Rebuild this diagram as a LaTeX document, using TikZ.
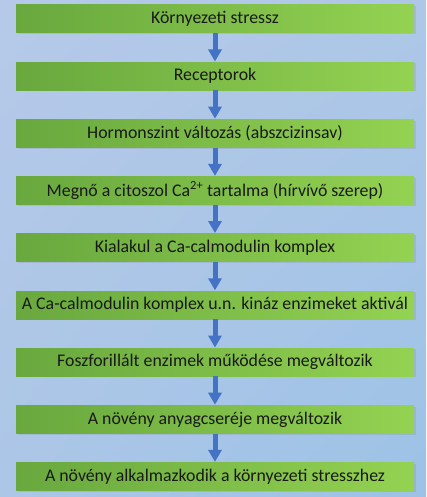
\documentclass[tikz,border=0pt]{standalone}
\usepackage{fontspec}
\setmainfont{Carlito}
\usetikzlibrary{positioning,arrows.meta,shadows,shadings}
\definecolor{bgtop}{HTML}{B6C9E8}
\definecolor{bgbot}{HTML}{9CC2E6}
\definecolor{grleft}{HTML}{68A83E}
\definecolor{grright}{HTML}{94D252}
\definecolor{arrblue}{HTML}{4472C4}
\begin{document}
\begin{tikzpicture}[x=1pt,y=1pt,
  lepes/.style={minimum width=398pt,minimum height=28pt,inner sep=0pt,
    left color=grleft,right color=grright,text=black!90,
    font=\fontsize{17.8}{20}\selectfont,
    drop shadow={opacity=0.2,shadow xshift=1.5pt,shadow yshift=-1.2pt}},
  nyil/.style={arrblue,line width=5pt,-{Triangle[width=13pt,length=12pt]},shorten >=0.5pt},
  node distance=28.8pt]
% background
\shade[upper left=bgtop,upper right=bgtop!70!bgbot,lower left=bgtop!60!bgbot,lower right=bgbot]
  (0,0) rectangle (426,-497);
\useasboundingbox (0,0) rectangle (426,-497);
% steps
\node[lepes] (stressz) at (215,-19) {Környezeti stressz};
\node[lepes,below=of stressz] (recept) {Receptorok};
\node[lepes,below=of recept] (hormon) {Hormonszint változás (abszcizinsav)};
\node[lepes,below=of hormon] (calc) {Megnő a citoszol Ca\textsuperscript{2+} tartalma (hírvívő szerep)};
\node[lepes,below=of calc] (komplex) {Kialakul a Ca-calmodulin komplex};
\node[lepes,below=of komplex] (kinaz) {A Ca-calmodulin komplex u.n. kináz enzimeket aktivál};
\node[lepes,below=of kinaz] (foszf) {Foszforillált enzimek működése megváltozik};
\node[lepes,below=of foszf] (anyag) {A növény anyagcseréje megváltozik};
\node[lepes,below=of anyag] (alkalm) {A növény alkalmazkodik a környezeti stresszhez};
% arrows
\foreach \a/\b in {stressz/recept,recept/hormon,hormon/calc,calc/komplex,
  komplex/kinaz,kinaz/foszf,foszf/anyag,anyag/alkalm}
  \draw[nyil] (\a.south) -- (\b.north);
\end{tikzpicture}
\end{document}
